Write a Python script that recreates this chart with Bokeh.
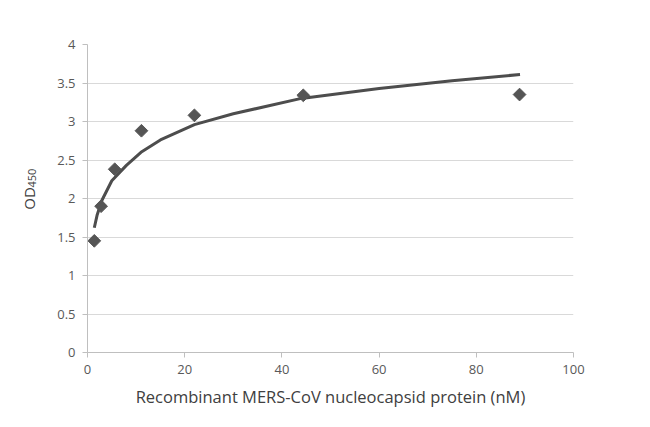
from bokeh.plotting import figure
from bokeh.models import Range1d, FixedTicker, Title
from bokeh.embed import file_html
from bokeh.resources import INLINE

# Measured points
conc = [1.4, 2.8, 5.6, 11.1, 22.0, 44.4, 88.9]
od = [1.45, 1.90, 2.38, 2.88, 3.08, 3.34, 3.35]

# Trendline
trend_x = [1.4, 2, 3, 5, 8, 11, 15, 22, 30, 44, 60, 75, 89]
trend_y = [1.62, 1.79, 1.98, 2.23, 2.43, 2.60, 2.76, 2.96, 3.10, 3.30, 3.43, 3.53, 3.61]

x_ticks = [0, 20, 40, 60, 80, 100]
y_ticks = [0, 0.5, 1, 1.5, 2, 2.5, 3, 3.5, 4]
y_tick_labels = ["0", "0.5", "1", "1.5", "2", "2.5", "3", "3.5", "4"]

FONT = "Open Sans"
TXT = "#595959"

p = figure(width=634, height=411, output_backend="svg", toolbar_location=None,
           x_range=Range1d(0, 100), y_range=Range1d(0, 4),
           min_border_left=87, min_border_right=61, min_border_top=44, min_border_bottom=59)
p.outline_line_color = None
p.background_fill_color = "white"

p.xgrid.grid_line_color = None
p.ygrid.grid_line_color = "#d9d9d9"
p.ygrid.grid_line_width = 1

p.xaxis.ticker = FixedTicker(ticks=x_ticks)
p.yaxis.ticker = FixedTicker(ticks=y_ticks)
p.yaxis.major_label_overrides = {t: l for t, l in zip(y_ticks, y_tick_labels)}
p.xaxis.major_label_overrides = {t: str(t) for t in x_ticks}

for ax in (p.xaxis, p.yaxis):
    ax.axis_line_color = "#bfbfbf"
    ax.major_tick_line_color = "#bfbfbf"
    ax.major_tick_out = 5
    ax.major_tick_in = 0
    ax.minor_tick_line_color = None
    ax.major_label_text_font = FONT
    ax.major_label_text_font_size = "13px"
    ax.major_label_text_color = TXT

p.yaxis.major_label_standoff = 7
p.xaxis.major_label_standoff = 7

p.xaxis.axis_label = "Recombinant MERS-CoV nucleocapsid protein (nM)"
p.xaxis.axis_label_text_font = FONT
p.xaxis.axis_label_text_font_size = "16.5px"
p.xaxis.axis_label_text_font_style = "normal"
p.xaxis.axis_label_text_color = "#404040"
p.xaxis.axis_label_standoff = 8

p.yaxis.axis_label = "OD"
p.yaxis.axis_label_text_font = FONT
p.yaxis.axis_label_text_font_size = "15px"
p.yaxis.axis_label_text_font_style = "normal"
p.yaxis.axis_label_text_color = "#404040"
p.yaxis.axis_label_standoff = 15

p.line(trend_x, trend_y, line_color="#4d4d4d", line_width=3)
p.scatter(conc, od, marker="square", size=9, angle=0.785398,
          fill_color="#555555", line_color="#555555")

# subscript of the y axis title
p.add_layout(Title(text="450", align="left", offset=165, standoff=-39,
                   text_font=FONT, text_font_size="11px", text_color="#404040",
                   text_font_style="normal"), "left")

open("out.html", "w").write(file_html(p, INLINE))
